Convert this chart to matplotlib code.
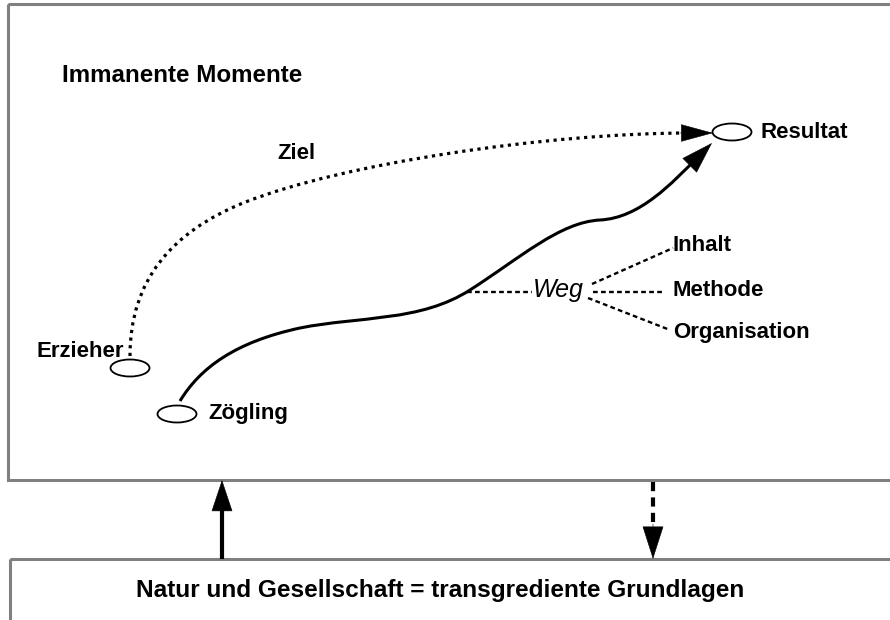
import matplotlib.pyplot as plt
from matplotlib.patches import Rectangle, Ellipse, FancyArrowPatch, PathPatch
from matplotlib.path import Path

plt.rcParams['font.family'] = ['Liberation Sans', 'DejaVu Sans']

# diagram coordinates (pixels, y down)
ziel_curve = [(130, 356), (130, 280), (172, 232), (243, 203),
              (343, 163), (550, 133), (713, 133)]
weg_curve = [(180, 401), (200, 368), (235, 342), (300, 328),
             (360, 316), (420, 322), (470, 290),
             (520, 258), (560, 222), (600, 220),
             (640, 218), (672, 183), (712, 143)]
weg_branches = [[(467, 292), (532, 292)],   # Weg <- curve
                [(593, 292), (665, 292)],   # Methode
                [(592, 284), (673, 248)],   # Inhalt
                [(588, 298), (670, 330)]]   # Organisation

nodes = {'Erzieher': (130, 368), 'Zögling': (177, 414), 'Resultat': (732, 132)}

labels = [('Ziel', 277, 159),
          ('Resultat', 761, 138),
          ('Zögling', 208, 419),
          ('Inhalt', 673, 251),
          ('Methode', 673, 296),
          ('Organisation', 673, 338)]

title = 'Immanente Momente'
bottom_text = 'Natur und Gesellschaft = transgrediente Grundlagen'

fig = plt.figure(figsize=(8.9, 6.2), dpi=100)
ax = fig.add_axes([0, 0, 1, 1])
ax.set_xlim(0, 890)
ax.set_ylim(620, 0)
ax.axis('off')


def head(start, tip, length=21, width=6.5):
    # filled arrow head only, thin outline so the tip lands on 'tip'
    ax.add_patch(FancyArrowPatch(start, tip, mutation_scale=1,
                                 arrowstyle=f'-|>,head_length={length},head_width={width}',
                                 color='black', lw=0.4, shrinkA=0, shrinkB=0))


# boxes
gray = '#808080'
ax.add_patch(Rectangle((8, 4), 900, 476, fill=False, ec=gray, lw=2.2))
ax.add_patch(Rectangle((10, 559), 900, 100, fill=False, ec=gray, lw=2.2))

# ellipses
for name, (cx, cy) in nodes.items():
    ax.add_patch(Ellipse((cx, cy), 39, 17, fill=False, ec='black', lw=1.3))

# Ziel (dotted) curve
codes = [Path.MOVETO] + [Path.CURVE4] * (len(ziel_curve) - 1)
ax.add_patch(PathPatch(Path(ziel_curve[:-1] + [(690, 133)], codes), fill=False,
                       ec='black', lw=2.3, linestyle=(0, (1, 1.4))))
head((680, 133), ziel_curve[-1], 22, 6)

# Weg (solid) curve
codes = [Path.MOVETO] + [Path.CURVE4] * (len(weg_curve) - 1)
ax.add_patch(PathPatch(Path(weg_curve[:-1] + [(698, 157)], codes), fill=False,
                       ec='black', lw=2.2))
head((686, 169), weg_curve[-1], 22, 7)

for seg in weg_branches:
    xs, ys = zip(*seg)
    ax.plot(xs, ys, color='black', lw=1.7, linestyle=(0, (2, 1.4)))

# labels
ax.text(62, 82, title, fontsize=17.4, fontweight='bold', ha='left', va='baseline')
for txt, x, y in labels:
    ax.text(x, y, txt, fontsize=16, fontweight='bold', ha='left', va='baseline')
ax.text(124, 357, 'Erzieher', fontsize=16, fontweight='bold', ha='right', va='baseline')
ax.text(533, 297, 'Weg', fontsize=18, style='italic', ha='left', va='baseline')
ax.text(440, 597, bottom_text, fontsize=17.6, fontweight='bold', ha='center', va='baseline')

# arrows between the boxes
ax.plot([222, 222], [559, 505], color='black', lw=3, solid_capstyle='butt')
head((222, 515), (222, 480), 21.6, 7.2)
ax.plot([653, 653], [482, 530], color='black', lw=3, linestyle=(0, (2.2, 1.5)))
head((653, 524), (653, 559), 22.5, 7.2)

fig.savefig('out.png', dpi=100)
